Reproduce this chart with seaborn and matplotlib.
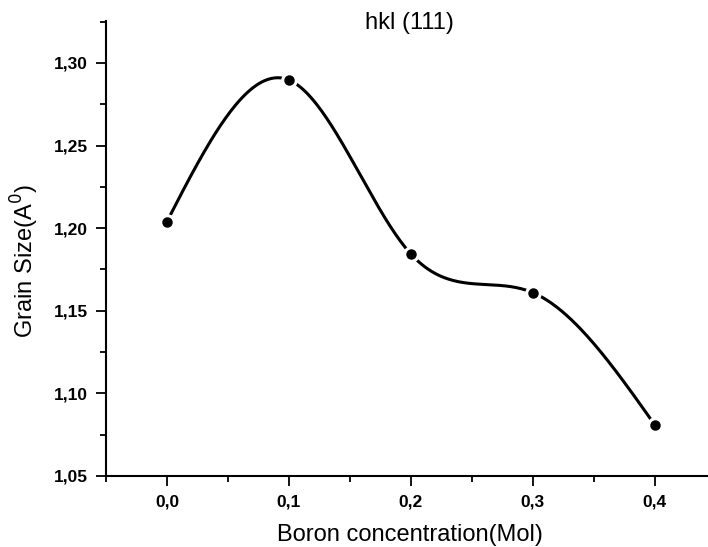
import matplotlib
matplotlib.use("Agg")
import matplotlib.pyplot as plt
import numpy as np
import pandas as pd
import seaborn as sns
from matplotlib.ticker import MultipleLocator, FuncFormatter

boron = [0.0, 0.1, 0.2, 0.3, 0.4]
grain = [1.204, 1.2897, 1.1844, 1.161, 1.081]
x_ticks = [0.0, 0.1, 0.2, 0.3, 0.4]
y_ticks = [1.05, 1.10, 1.15, 1.20, 1.25, 1.30]


def natural_spline(x, y, n=300):
    # plain natural cubic spline, like Origin's "Spline" connect
    x = np.asarray(x, float)
    y = np.asarray(y, float)
    k = len(x)
    h = np.diff(x)
    A = np.zeros((k, k))
    r = np.zeros(k)
    A[0, 0] = A[-1, -1] = 1
    for i in range(1, k - 1):
        A[i, i - 1] = h[i - 1]
        A[i, i] = 2 * (h[i - 1] + h[i])
        A[i, i + 1] = h[i]
        r[i] = 3 * ((y[i + 1] - y[i]) / h[i] - (y[i] - y[i - 1]) / h[i - 1])
    c = np.linalg.solve(A, r)
    xs = np.linspace(x[0], x[-1], n)
    idx = np.clip(np.searchsorted(x, xs) - 1, 0, k - 2)
    dx = xs - x[idx]
    b = (y[1:] - y[:-1]) / h - h * (2 * c[:-1] + c[1:]) / 3
    d = (c[1:] - c[:-1]) / (3 * h)
    ys = y[idx] + b[idx] * dx + c[idx] * dx ** 2 + d[idx] * dx ** 3
    return xs, ys


sns.set_style("ticks")
plt.rcParams['font.family'] = ['Liberation Sans', 'DejaVu Sans']
for key in ["text.color", "axes.labelcolor", "xtick.color", "ytick.color", "axes.edgecolor"]:
    plt.rcParams[key] = "black"

xs, ys = natural_spline(boron, grain)
curve = pd.DataFrame({"x": xs, "y": ys})
points = pd.DataFrame({"x": boron, "y": grain})

fig = plt.figure(figsize=(7.08, 5.47), dpi=100)
ax = fig.add_axes([0.1497, 0.1298, 0.8503, 0.8318])

sns.lineplot(data=curve, x="x", y="y", ax=ax, color="black", linewidth=2.2, sort=False)
sns.scatterplot(data=points, x="x", y="y", ax=ax, color="black", s=95,
                edgecolor="white", linewidth=2.2, zorder=5)

ax.set_xlim(-0.05, 0.4437)
ax.set_ylim(1.05, 1.3254)
ax.set_xticks(x_ticks)
ax.set_yticks(y_ticks)
ax.xaxis.set_minor_locator(MultipleLocator(0.05))
ax.yaxis.set_minor_locator(MultipleLocator(0.025))
ax.xaxis.set_major_formatter(FuncFormatter(lambda v, p: f"{v:.1f}".replace(".", ",")))
ax.yaxis.set_major_formatter(FuncFormatter(lambda v, p: f"{v:.2f}".replace(".", ",")))

for lab in ax.get_xticklabels() + ax.get_yticklabels():
    lab.set_fontweight("bold")
    lab.set_fontsize(12.5)

ax.tick_params(which="major", direction="out", length=7, width=1.3, pad=6)
ax.tick_params(which="minor", direction="out", length=4, width=1.3)

for s in ["top", "right"]:
    ax.spines[s].set_visible(False)
for s in ["left", "bottom"]:
    ax.spines[s].set_linewidth(1.5)

ax.set_xlabel("Boron concentration(Mol)", fontsize=17)
ax.set_ylabel("Grain Size(A$^{0}$)", fontsize=17)
ax.xaxis.set_label_coords(0.505, -0.105)
ax.yaxis.set_label_coords(-0.108, 0.472)
fig.text(0.578, 0.958, "hkl (111)", fontsize=17, ha="center", va="center")

fig.savefig("out.png", dpi=100)
